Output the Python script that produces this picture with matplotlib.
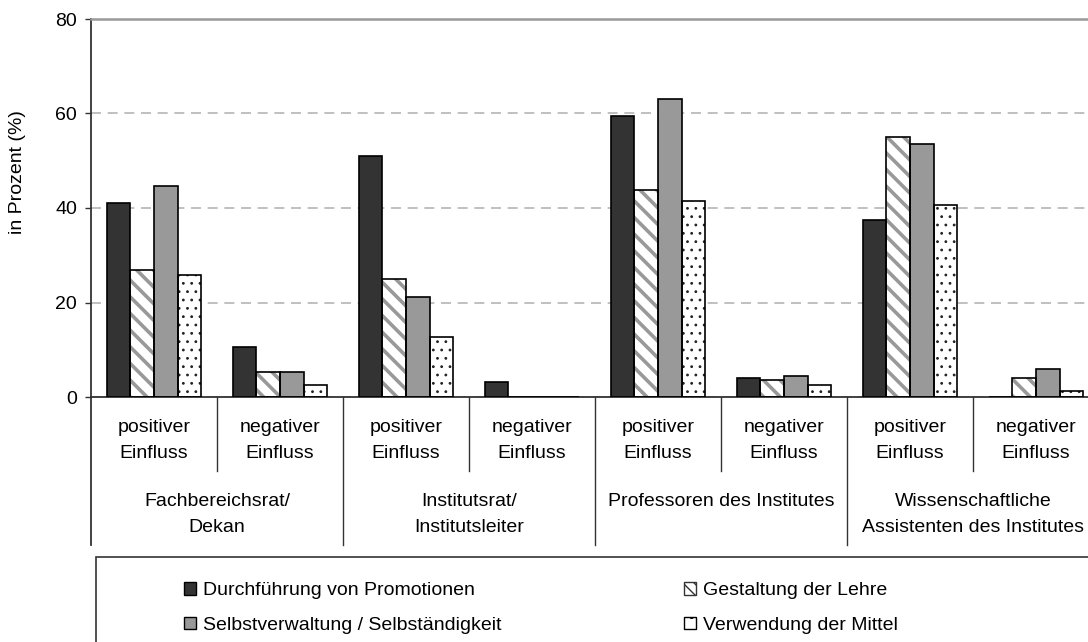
import matplotlib
matplotlib.use("Agg")
import matplotlib.pyplot as plt
from matplotlib.patches import Patch, Rectangle
import matplotlib.transforms as mtransforms

plt.rcParams['font.family'] = ['Liberation Sans', 'DejaVu Sans']

# data
sub_labels = ["positiver\nEinfluss", "negativer\nEinfluss"] * 4
groups = ["Fachbereichsrat/\nDekan", "Institutsrat/\nInstitutsleiter",
          "Professoren des Institutes",
          "Wissenschaftliche\nAssistenten des Institutes"]
series = ["Durchführung von Promotionen", "Gestaltung der Lehre",
          "Selbstverwaltung / Selbständigkeit", "Verwendung der Mittel"]
durchfuehrung = [41.0, 10.5, 51.1, 3.2, 59.5, 4.1, 37.5, 0.0]
gestaltung = [26.9, 5.2, 25.0, 0.0, 43.8, 3.7, 55.1, 4.1]
selbstverwaltung = [44.7, 5.2, 21.2, 0.0, 63.1, 4.5, 53.5, 5.9]
mittel = [25.8, 2.5, 12.6, 0.0, 41.5, 2.5, 40.6, 1.3]
yticks = [0, 20, 40, 60, 80]

fig = plt.figure(figsize=(10.88, 6.42), dpi=100)
fig.patch.set_facecolor('white')
# plot area runs a bit past the right edge, like the original
ax = fig.add_axes([91/1088, 245/642, 1008/1088, 378/642])

x = list(range(len(sub_labels)))
w = 0.1875
styles = [
    dict(face='#333333', hatch=None, hcol='#333333', hlw=1.0),
    dict(face='white', hatch='\\\\', hcol='#999999', hlw=2.6),
    dict(face='#999999', hatch=None, hcol='#999999', hlw=1.0),
    dict(face='white', hatch='..', hcol='#222222', hlw=0.8),
]
for i, vals in enumerate([durchfuehrung, gestaltung, selbstverwaltung, mittel]):
    xs = [xi + (i - 1.5) * w for xi in x]
    st = styles[i]
    with plt.rc_context({'hatch.linewidth': st['hlw']}):
        ax.bar(xs, vals, w, color=st['face'], edgecolor=st['hcol'],
               hatch=st['hatch'], lw=0, zorder=2)
    ax.bar(xs, vals, w, fill=False, edgecolor='black', lw=1.2, zorder=3)

ax.set_xlim(-0.5, 7.5)
ax.set_ylim(0, 80)
ax.set_yticks(yticks)
ax.set_xticks([])
ax.tick_params(axis='y', labelsize=14, length=4, width=1, color='#333333', pad=6)
ax.set_axisbelow(True)
ax.yaxis.grid(True, linestyle=(0, (6, 4)), color='#b5b5b5', lw=1.2)

ax.spines['right'].set_visible(False)
ax.spines['top'].set_color('#999999')
ax.spines['top'].set_linewidth(1.8)
ax.spines['left'].set_color('#333333')
ax.spines['left'].set_linewidth(1.3)
ax.spines['bottom'].set_color('#333333')
ax.spines['bottom'].set_linewidth(1.3)

ax.set_ylabel("in Prozent (%)", fontsize=14)
ax.yaxis.set_label_coords(-0.0645, 0.595)

# multi-level category axis
trans = mtransforms.blended_transform_factory(ax.transData, ax.transAxes)
ax.plot([-0.5, -0.5], [0, -0.3915], transform=trans, color='#333333',
        lw=1.3, clip_on=False)
for k in range(8):
    b = k + 0.5
    low = -0.196 if k % 2 == 0 else -0.3915
    ax.plot([b, b], [0, low], transform=trans, color='#333333', lw=1.0,
            clip_on=False)
for k, lab in enumerate(sub_labels):
    ax.text(k, -0.115, lab, transform=trans, ha='center', va='center',
            fontsize=14, linespacing=1.75, clip_on=False)
for g, lab in enumerate(groups):
    ax.text(2 * g + 0.5, -0.253, lab, transform=trans, ha='center', va='top',
            fontsize=14, linespacing=1.75, clip_on=False)

# legend
handles = [
    Patch(facecolor='#333333', edgecolor='black', lw=1),
    Patch(facecolor='#999999', edgecolor='black', lw=1),
    Patch(facecolor='white', edgecolor='#333333', hatch='\\\\\\', lw=1),
    Patch(facecolor='white', edgecolor='black', hatch='.', lw=1),
]
labels = [series[0], series[2], series[1], series[3]]
with plt.rc_context({'hatch.linewidth': 1.0}):
    fig.legend(handles, labels, loc='upper left',
               bbox_to_anchor=(184/1088, 1 - 582/642), ncol=2, frameon=False,
               fontsize=14, handlelength=0.62, handleheight=0.62,
               handletextpad=0.35, columnspacing=9.4, labelspacing=0.9,
               borderpad=0, borderaxespad=0)
fig.patches.append(Rectangle((96/1088, -0.05), 1.0, 0.05 + 85/642,
                             transform=fig.transFigure, fill=False,
                             edgecolor='#333333', lw=1.2))

plt.savefig("out.png", dpi=100)
